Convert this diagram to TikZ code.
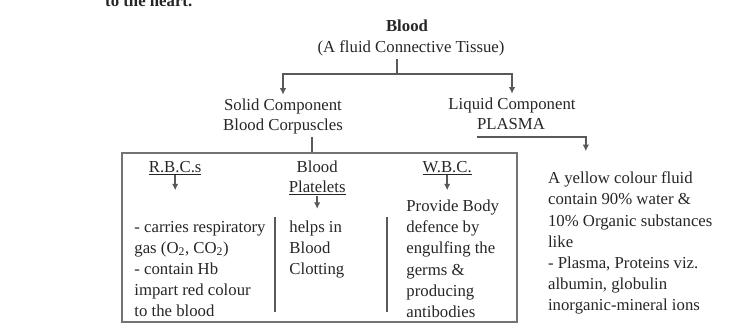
\documentclass[tikz,border=0pt]{standalone}
\usepackage{fontspec}
\setmainfont{Liberation Serif}
\usepackage{tikz}
\usetikzlibrary{arrows,arrows.meta,positioning}
\tikzstyle{heading} = [text centered, align=center, inner sep=3pt, text=black!85, font=\fontsize{14.3pt}{17.1pt}\selectfont]
\tikzstyle{celltitle} = [align=center, inner sep=0pt, text=black!85, font=\fontsize{14.3pt}{17.1pt}\selectfont]
\tikzstyle{notes} = [anchor=north west, align=left, inner sep=0pt, text=black!85, font=\fontsize{14.3pt}{18.1pt}\selectfont]
\tikzstyle{panel} = [draw, color=black!55, line width=1.4pt, minimum width=11.85cm, minimum height=5.07cm, inner sep=0pt]
\tikzstyle{arrow} = [draw, line width=1.2pt, color=black!65, -{Latex[length=5.5pt,width=5.5pt]}]
\tikzstyle{line} = [draw, line width=1.2pt, color=black!65]
\tikzstyle{divider} = [draw, line width=1.5pt, color=black!65]
\newcommand{\heading}[2]{node (h#1) [heading] {#2}}
\newcommand{\celltitle}[2]{node (c#1) [celltitle] {#2}}
\newcommand{\notes}[2]{node (n#1) [notes] {#2}}

\begin{document}
\begin{tikzpicture}
\useasboundingbox (0,0) rectangle (22.38,-9.75);
\path (3.15,-0.18) node (h0) [heading, anchor=base west, inner sep=0pt] {\textbf{to the heart.}};
\path (12.21,-0.78) \heading{1}{\textbf{Blood}};
\path (h1)+(0.12,-0.66) \heading{2}{(A fluid Connective Tissue)};
\path (h2)+(-3.84,-2.04) \heading{3}{Solid Component\\Blood Corpuscles};
\path (h2)+(3.03,-1.71) \heading{4}{Liquid Component};
\path (h4)+(-0.03,-0.57) \heading{5}{PLASMA};
\path [arrow] ([xshift=-0.42cm]h2.south) -- ++(0,-0.44) -| (h3.north);
\path [arrow] ([xshift=-0.42cm]h2.south) -- ++(0,-0.44) -| (h4.north);

% blood corpuscles
\path (h3)+(1.095,-3.645) node (box) [panel] {};
\path [line] ([xshift=0.87cm]h3.south) -- ([xshift=0.87cm]h3.south |- box.north);

\path (box.north west)+(1.62,-0.48) \celltitle{1}{\underline{R.B.C.s}};
\path (box.north west)+(5.88,-0.78) \celltitle{2}{Blood\\\underline{Platelets}};
\path (box.north west)+(9.78,-0.48) \celltitle{3}{\underline{W.B.C.}};
\path (c1.south)+(0,-0.45) coordinate (e1);
\path (c2.south)+(0,-0.4) coordinate (e2);
\path (c3.south)+(0,-0.45) coordinate (e3);
\path [arrow] (c1.south) -- (e1);
\path [arrow] (c2.south) -- (e2);
\path [arrow] (c3.south) -- (e3);

\path (box.north west)+(4.605,-1.95) coordinate (s1);
\path (s1)+(0,-2.85) coordinate (s2);
\path (box.north west)+(7.965,-1.95) coordinate (s3);
\path (s3)+(0,-2.85) coordinate (s4);
\path [divider] (s1) -- (s2);
\path [divider] (s3) -- (s4);

\path (box.north west)+(0.39,-2.055) \notes{1}{- carries respiratory\\gas (O\textsubscript{2}, CO\textsubscript{2})\\- contain Hb\\impart red colour\\to the blood};
\path (box.north west)+(5.04,-2.055) \notes{2}{helps in\\Blood\\Clotting};
\path (box.north west)+(8.55,-1.425) \notes{3}{Provide Body\\defence by\\engulfing the\\germs \&\\producing\\antibodies};

% plasma
\path (box.north east)+(0.9,-0.585) \notes{4}{A yellow colour fluid\\contain 90\% water \&\\10\% Organic substances\\like\\- Plasma, Proteins viz.\\albumin, globulin\\inorganic-mineral ions};
\path (n4.north west)+(1.14,0.615) coordinate (k1);
\path [arrow] ([shift={(0.1,-0.105)}]h5.south west) -| (k1);
\end{tikzpicture}
\end{document}
